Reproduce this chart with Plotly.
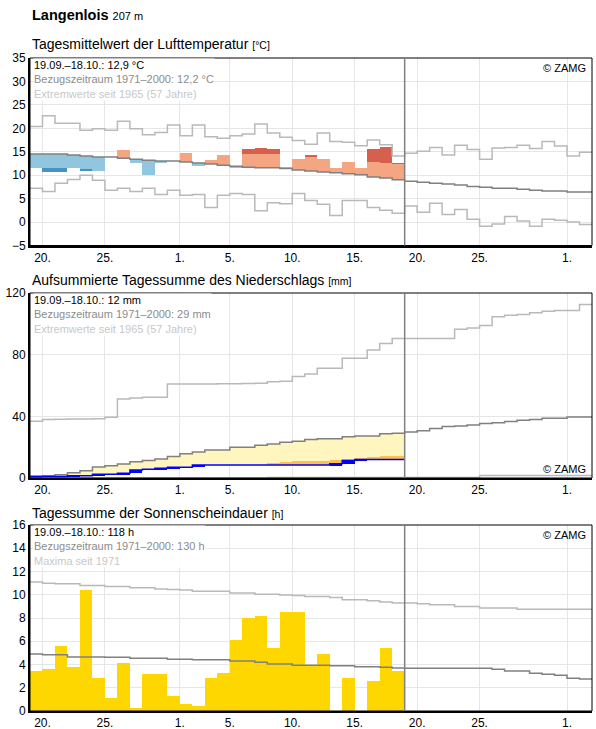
import numpy as np
import plotly.graph_objects as go

# ---------------- data ----------------
# day index 0 = 19 Sep ... 44 = 2 Nov ; observed period = first 30 days
tick_days = [1, 6, 12, 16, 21, 26, 31, 36, 43]
tick_labels = ["20.", "25.", "1.", "5.", "10.", "15.", "20.", "25.", "1."]

# Temperature (°C)
t_clim = [14.5, 14.5, 14.5, 14.3, 14.1, 13.9, 13.9, 13.6, 13.4, 13.2,
          13.0, 13.0, 12.8, 12.6, 12.4, 12.1, 11.9, 11.7, 11.6, 11.6,
          11.4, 11.1, 10.9, 10.7, 10.5, 10.3, 10.1, 9.6, 9.4, 9.0,
          8.7, 8.5, 8.3, 8.1, 7.9, 7.6, 7.4, 7.2, 7.2, 7.0,
          6.8, 6.6, 6.6, 6.4, 6.4]
t_max = [20.4, 22.7, 21.1, 21.1, 19.6, 19.9, 19.6, 21.5, 19.9, 18.6,
         19.1, 20.7, 18.4, 20.7, 18.2, 17.9, 18.4, 18.8, 20.9, 19.0,
         18.1, 17.4, 16.6, 19.0, 17.2, 17.0, 16.3, 17.5, 16.5, 14.1,
         14.7, 15.1, 15.9, 14.3, 16.4, 15.5, 13.4, 15.8, 15.9, 16.4,
         15.7, 17.2, 16.2, 14.1, 14.9]
t_min = [7.2, 6.5, 8.3, 9.1, 10.0, 8.9, 6.8, 7.2, 6.5, 7.2,
         5.9, 6.8, 5.7, 5.9, 3.1, 5.7, 6.1, 5.9, 2.4, 4.1,
         3.9, 6.1, 4.6, 3.8, 1.4, 4.6, 4.6, 3.1, 2.5, 1.9,
         3.4, 2.1, 4.0, 1.6, 2.7, 0.6, -0.9, -0.4, 1.2, 0.2,
         -0.9, 0.6, 0.4, 0.0, -0.5]
t_obs = [11.6, 10.6, 10.6, 11.6, 10.8, 11.0, 13.9, 15.4, 12.7, 10.1,
         12.5, 13.0, 14.7, 11.9, 13.3, 14.4, 11.6, 15.5, 15.9, 15.6,
         11.6, 13.4, 14.3, 13.5, 11.6, 12.9, 11.6, 15.6, 16.1, 12.5]
# anomaly limit between light and dark shading
t_band = [2.9, 2.9, 2.9, 2.9, 2.8, 2.9, 2.9, 2.9, 2.9, 3.2,
          3.0, 3.0, 3.0, 3.0, 3.0, 3.0, 3.0, 2.9, 3.0, 3.0,
          3.0, 3.0, 3.0, 3.1, 3.1, 3.2, 3.2, 3.3, 3.1, 3.4]

# Precipitation (mm)
p_clim = [1.1, 1.5, 2.1, 3.4, 4.7, 7.2, 7.9, 9.1, 10.6, 11.3,
          12.3, 14.0, 15.7, 16.8, 18.1, 18.1, 20.0, 20.0, 21.3, 22.1,
          23.2, 23.8, 24.9, 25.5, 25.5, 26.8, 27.2, 27.2, 28.7, 29.1,
          29.9, 30.6, 32.1, 33.4, 33.8, 34.4, 35.3, 35.9, 36.6, 37.4,
          37.9, 38.7, 38.7, 39.6, 39.6]
p_max = [36.8, 38.0, 38.1, 38.2, 38.3, 38.5, 39.4, 51.3, 51.9, 52.3,
         52.3, 60.9, 60.9, 61.0, 61.0, 61.1, 61.2, 61.3, 61.4, 62.5,
         62.8, 65.9, 67.4, 71.2, 71.2, 77.6, 77.6, 83.0, 87.3, 90.5,
         90.5, 90.5, 90.5, 90.5, 96.5, 97.3, 99.0, 104.6, 105.5, 106.1,
         107.2, 108.2, 108.7, 108.7, 112.5]
p_min = [0.0] * 19 + [0.4] * 17 + [1.7] * 9
p_daily = [1.0, 0.0, 0.0, 0.5, 0.0, 0.9, 0.0, 0.6, 2.2, 0.4,
           0.7, 0.6, 0.0, 1.5, 0.0, 0.0, 0.0, 0.0, 0.0, 0.0,
           0.0, 0.0, 0.0, 0.0, 0.8, 2.1, 0.7, 0.0, 0.0, 0.0]
p_dry = [None] * 19 + [9.8, 10.2, 10.8, 10.8, 10.8, 11.6, 12.3, 12.7, 13.4, 14.5, 14.5]

# Sunshine (h)
s_clim = [4.91, 4.83, 4.83, 4.65, 4.65, 4.65, 4.63, 4.63, 4.54, 4.54,
          4.54, 4.45, 4.45, 4.40, 4.40, 4.40, 4.31, 4.31, 4.20, 4.05,
          4.05, 3.93, 3.93, 3.93, 3.90, 3.90, 3.80, 3.80, 3.76, 3.70,
          3.68, 3.68, 3.68, 3.68, 3.68, 3.68, 3.68, 3.59, 3.45, 3.45,
          3.25, 3.16, 3.07, 2.82, 2.76]
s_max = [11.1, 11.0, 10.95, 10.95, 10.8, 10.8, 10.7, 10.7, 10.6, 10.6,
         10.5, 10.45, 10.4, 10.3, 10.3, 10.3, 10.15, 10.15, 10.05, 10.05,
         9.97, 9.94, 9.86, 9.86, 9.77, 9.57, 9.57, 9.48, 9.37, 9.28,
         9.28, 9.22, 9.14, 9.14, 9.0, 9.0, 8.85, 8.85, 8.85, 8.76,
         8.76, 8.76, 8.76, 8.76, 8.76]
s_obs = [3.4, 3.6, 5.6, 3.8, 10.4, 2.8, 1.1, 4.1, 0.3, 3.2,
         3.2, 1.3, 0.6, 0.4, 2.8, 3.3, 6.1, 8.0, 8.2, 5.4,
         8.5, 8.5, 4.0, 4.9, 0.0, 2.8, 0.0, 2.6, 5.4, 3.4]

# ---------------- styling ----------------
FONT = "Arial, Liberation Sans, sans-serif"
GRID = "#e6e6e6"
C_CLIM = "#808080"
C_EXT = "#b9b9b9"
LB, DB, LR, DR = "#92c5de", "#4393c3", "#f4a582", "#d6604d"
C_YEL, C_ORA, C_BLUE, C_SUN = "#fff5bf", "#fdbf4f", "#0000ff", "#ffd700"
N_OBS = len(t_obs)

fig = go.Figure()


def step_line(vals, xa, ya, color, width):
    xs = list(range(len(vals) + 1))
    ys = list(vals) + [vals[-1]]
    fig.add_trace(go.Scatter(x=xs, y=ys, mode="lines", line=dict(color=color, width=width, shape="hv"),
                             xaxis=xa, yaxis=ya, showlegend=False, hoverinfo="skip"))


def bars(xs, base, heights, colors, xa, ya):
    fig.add_trace(go.Bar(x=xs, y=heights, base=base, width=1.0, marker=dict(color=colors, line=dict(width=0)),
                         xaxis=xa, yaxis=ya, showlegend=False, hoverinfo="skip"))


# ----- panel 1: temperature -----
xs_obs = [k + 0.5 for k in range(N_OBS)]
lb_base, lb_h, lb_c, dk_base, dk_h, dk_c = [], [], [], [], [], []
for k in range(N_OBS):
    c, o, b = t_clim[k], t_obs[k], t_band[k]
    anom = o - c
    lim = c + max(-b, min(b, anom))
    lb_base.append(c); lb_h.append(lim - c); lb_c.append(LR if anom > 0 else LB)
    dk_base.append(lim); dk_h.append(o - lim); dk_c.append(DR if anom > 0 else DB)
bars(xs_obs, lb_base, lb_h, lb_c, "x", "y")
bars(xs_obs, dk_base, dk_h, dk_c, "x", "y")
step_line(t_max, "x", "y", C_EXT, 1.5)
step_line(t_min, "x", "y", C_EXT, 1.5)
step_line(t_clim, "x", "y", C_CLIM, 1.5)

# ----- panel 2: precipitation -----
p_cum = np.cumsum(p_daily)
y_base, y_h, o_base, o_h = [], [], [], []
for k in range(N_OBS):
    cum = float(p_cum[k])
    dry = p_dry[k]
    top = max(cum, dry) if dry is not None else cum
    y_base.append(top); y_h.append(max(0.0, p_clim[k] - top))
    o_base.append(cum); o_h.append((dry - cum) if (dry is not None and dry > cum) else 0.0)
bars(xs_obs, y_base, y_h, C_YEL, "x2", "y2")
bars(xs_obs, o_base, o_h, C_ORA, "x2", "y2")
bars(xs_obs, list(p_cum - np.array(p_daily)), p_daily, C_BLUE, "x2", "y2")
step_line(p_max, "x2", "y2", C_EXT, 1.5)
step_line(p_min, "x2", "y2", C_EXT, 1.5)
step_line(p_clim, "x2", "y2", C_CLIM, 1.5)
step_line(list(p_cum), "x2", "y2", C_BLUE, 1.5)

# ----- panel 3: sunshine -----
bars(xs_obs, [0] * N_OBS, s_obs, C_SUN, "x3", "y3")
step_line(s_max, "x3", "y3", C_EXT, 1.5)
step_line(s_clim, "x3", "y3", C_CLIM, 1.5)

# ---------------- layout ----------------
W, H = 596, 729
M_L, M_R, M_T, M_B = 30, 4, 58, 18
PH = H - M_T - M_B
domains = [[1 - 187.5 / PH, 1.0], [1 - 420 / PH, 1 - 235 / PH], [0.0, 1 - 467 / PH]]
yranges = [[-5, 35], [0, 120], [0, 16]]
ydticks = [5, 40, 2]

xaxis_common = dict(range=[0, 45], tickmode="array", tickvals=tick_days, ticktext=tick_labels,
                    showgrid=True, gridcolor=GRID, gridwidth=1, zeroline=False, showline=True,
                    linecolor="black", linewidth=2, ticks="", tickfont=dict(family=FONT, size=12, color="black"),
                    fixedrange=True, automargin=False)
layout = dict(width=W, height=H, margin=dict(l=M_L, r=M_R, t=M_T, b=M_B, autoexpand=False),
              plot_bgcolor="white", paper_bgcolor="white", barmode="overlay", bargap=0, showlegend=False,
              font=dict(family=FONT, size=12, color="black"))
for i in range(3):
    sx = "" if i == 0 else str(i + 1)
    layout["xaxis" + sx] = dict(xaxis_common, anchor="y" + sx, domain=[0, 1])
    layout["yaxis" + sx] = dict(range=yranges[i], dtick=ydticks[i], domain=domains[i], anchor="x" + sx,
                               showgrid=True, gridcolor=GRID, gridwidth=1, zeroline=False, showline=True,
                               linecolor="black", linewidth=2, ticks="", automargin=False,
                               tickfont=dict(family=FONT, size=12, color="black"), fixedrange=True)
fig.update_layout(**layout)

shapes = []
for i in range(3):
    sx = "" if i == 0 else str(i + 1)
    shapes.append(dict(type="rect", xref="x" + sx + " domain", yref="y" + sx + " domain",
                       x0=0, x1=1, y0=0, y1=1, line=dict(color="black", width=1), layer="above"))
    shapes.append(dict(type="line", xref="x" + sx, yref="y" + sx + " domain", x0=N_OBS, x1=N_OBS,
                       y0=0, y1=1, line=dict(color=C_CLIM, width=1.5), layer="above"))
fig.update_layout(shapes=shapes)


def py(px):
    return (H - M_B - px) / PH


ann = []
ann.append(dict(text="<b>Langenlois</b> <span style='font-size:11px'>207 m</span>", x=0, y=py(15),
                xref="paper", yref="paper", xanchor="left", yanchor="middle", showarrow=False,
                font=dict(family=FONT, size=14.5, color="black")))
titles = [("Tagesmittelwert der Lufttemperatur", "[°C]", 44),
          ("Aufsummierte Tagessumme des Niederschlags", "[mm]", 280),
          ("Tagessumme der Sonnenscheindauer", "[h]", 513)]
for t, u, ypx in titles:
    ann.append(dict(text=t + " <span style='font-size:10.5px'>" + u + "</span>", x=0, y=py(ypx),
                    xref="paper", yref="paper", xanchor="left", yanchor="middle", showarrow=False,
                    font=dict(family=FONT, size=14, color="black")))

info = [["19.09.–18.10.: 12,9 °C", "Bezugszeitraum 1971–2000: 12,2 °C", "Extremwerte seit 1965 (57 Jahre)"],
        ["19.09.–18.10.: 12 mm", "Bezugszeitraum 1971–2000: 29 mm", "Extremwerte seit 1965 (57 Jahre)"],
        ["19.09.–18.10.: 118 h", "Bezugszeitraum 1971–2000: 130 h", "Maxima seit 1971"]]
info_colors = ["black", "#8c8c8c", "#c8c8c8"]
for i in range(3):
    sx = "" if i == 0 else str(i + 1)
    txt = "<br>".join("<span style='color:%s'>%s</span>" % (info_colors[j], line)
                      for j, line in enumerate(info[i]))
    ann.append(dict(text=txt, x=0, y=1, xref="x" + sx + " domain", yref="y" + sx + " domain",
                    xanchor="left", yanchor="top", align="left", xshift=3, yshift=0, showarrow=False,
                    bgcolor="white", borderpad=0,
                    font=dict(family=FONT, size=11, color="black")))
    if i == 1:
        ann.append(dict(text="© ZAMG", x=1, y=0, xref="x" + sx + " domain", yref="y" + sx + " domain",
                        xanchor="right", yanchor="bottom", xshift=-4, yshift=1, showarrow=False,
                        font=dict(family=FONT, size=11, color="black")))
    else:
        ann.append(dict(text="© ZAMG", x=1, y=1, xref="x" + sx + " domain", yref="y" + sx + " domain",
                        xanchor="right", yanchor="top", xshift=-4, yshift=-2, showarrow=False,
                        font=dict(family=FONT, size=11, color="black")))
fig.update_layout(annotations=ann)

fig.write_html("out.html")
